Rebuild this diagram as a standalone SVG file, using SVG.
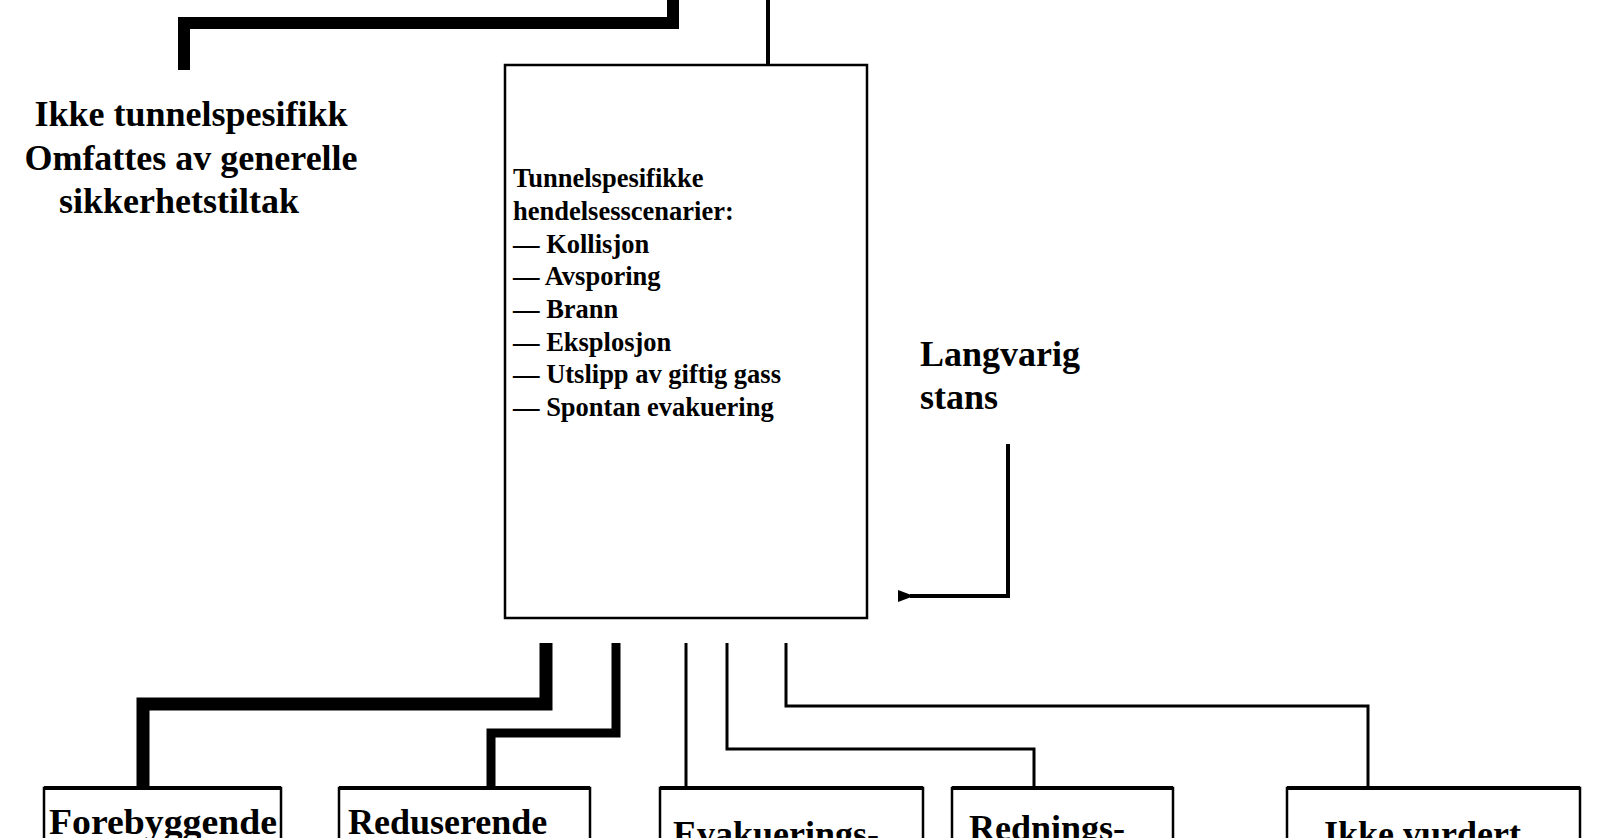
<svg xmlns="http://www.w3.org/2000/svg" width="1600" height="838" viewBox="0 0 1600 838">
<style>
text{font-family:"Liberation Serif","Times New Roman",serif;font-weight:bold;fill:#000}
.big{font-size:36px}
.mid{font-size:26.5px}
.c{fill:none;stroke:#000;stroke-linejoin:miter}
.box{fill:#fff;stroke:#000;stroke-width:2.5}
</style>
<defs>
<marker id="ah" markerWidth="4" markerHeight="4" refX="1" refY="2" orient="auto" markerUnits="strokeWidth"><path d="M0,2 L4,0.5 L4,3.5 Z" fill="#000"/></marker>
</defs>
<rect width="1600" height="838" fill="#fff"/>
<g id="connectors">
<path class="c" style="stroke-width:12" d="M673,0 V23 H184 V70"/>
<path class="c" style="stroke-width:4" d="M768,0 V65"/>
<path class="c" style="stroke-width:4" d="M1008,444 V596 H910" marker-end="url(#ah)"/>
<path class="c" style="stroke-width:13" d="M546,643 V704 H143 V788"/>
<path class="c" style="stroke-width:9" d="M616,643 V733 H491 V788"/>
<path class="c" style="stroke-width:3" d="M686,643 V788"/>
<path class="c" style="stroke-width:3" d="M727,643 V749 H1034 V788"/>
<path class="c" style="stroke-width:3" d="M786,643 V706 H1368 V788"/>
</g>
<g id="n-ikke-spes">
<text class="big" text-anchor="middle" x="191" y="126">Ikke tunnelspesifikk</text>
<text class="big" text-anchor="middle" x="191" y="170">Omfattes av generelle</text>
<text class="big" text-anchor="middle" x="179" y="213">sikkerhetstiltak</text>
</g>
<g id="n-main">
<rect class="box" x="505" y="65" width="362" height="553"/>
<text class="mid" x="513" y="187">Tunnelspesifikke</text>
<text class="mid" x="513" y="220">hendelsesscenarier:</text>
<text class="mid" x="513" y="253">— Kollisjon</text>
<text class="mid" x="513" y="285">— Avsporing</text>
<text class="mid" x="513" y="318">— Brann</text>
<text class="mid" x="513" y="351">— Eksplosjon</text>
<text class="mid" x="513" y="383">— Utslipp av giftig gass</text>
<text class="mid" x="513" y="416">— Spontan evakuering</text>
</g>
<g id="n-langvarig">
<text class="big" x="920" y="366">Langvarig</text>
<text class="big" x="920" y="409">stans</text>
</g>
<g id="n-fore"><rect class="box" x="44" y="788" width="237" height="80"/><path d="M44,788 H281" stroke="#000" stroke-width="4"/><text class="big" x="49" y="834" textLength="228" lengthAdjust="spacingAndGlyphs">Forebyggende</text></g>
<g id="n-redu"><rect class="box" x="339" y="788" width="251" height="80"/><path d="M339,788 H590" stroke="#000" stroke-width="4"/><text class="big" x="348" y="834">Reduserende</text></g>
<g id="n-evak"><rect class="box" x="660" y="788" width="263" height="80"/><path d="M660,788 H923" stroke="#000" stroke-width="4"/><text class="big" x="673" y="846">Evakuerings-</text></g>
<g id="n-redn"><rect class="box" x="952" y="788" width="221" height="80"/><path d="M952,788 H1173" stroke="#000" stroke-width="4"/><text class="big" x="969" y="840">Rednings-</text></g>
<g id="n-ikke-vurd"><rect class="box" x="1287" y="788" width="293" height="80"/><path d="M1287,788 H1580" stroke="#000" stroke-width="4"/><text class="big" x="1324" y="846">Ikke vurdert</text></g>
</svg>
